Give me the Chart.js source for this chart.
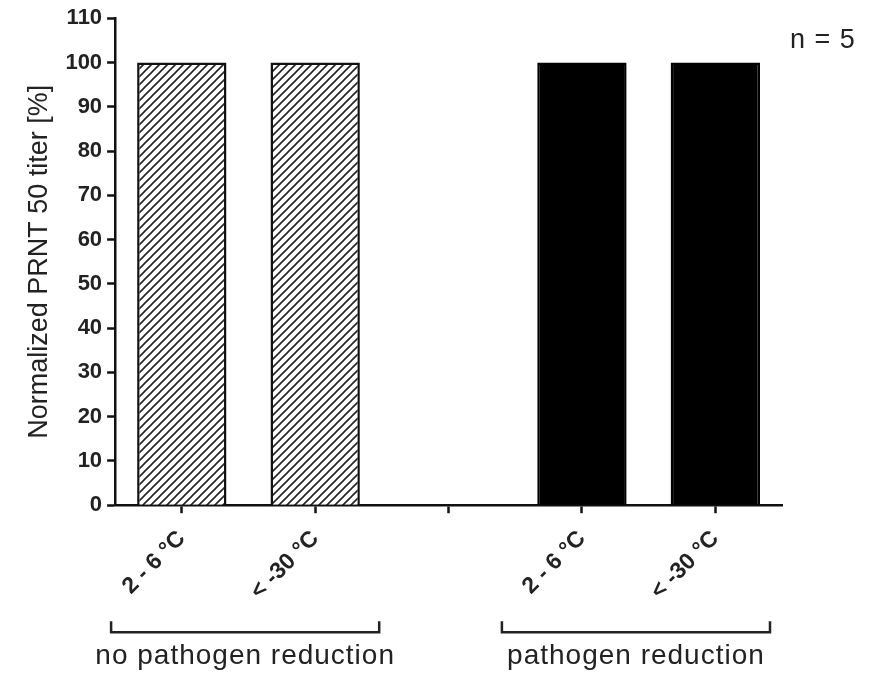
<!DOCTYPE html>
<html>
<head>
<meta charset="utf-8">
<script src="https://cdn.jsdelivr.net/npm/chart.js@4"></script>
<style>
  html, body { margin: 0; padding: 0; background: #fff; }
  #wrap { width: 882px; height: 675px; }
</style>
</head>
<body>
<div id="wrap"><canvas id="chart" width="882" height="675"></canvas></div>
<script>
// categories on the x axis (middle slot is the empty gap)
const categories = ['2 - 6 °C', '< -30 °C', '', '2 - 6 °C', '< -30 °C'];
// normalized PRNT 50 titer, %
const noReduction = [100, 100, null, null, null];
const withReduction = [null, null, null, 100, 100];
const groupNames = ['no pathogen reduction', 'pathogen reduction'];
const yTicks = { min: 0, max: 110, step: 10 };
const sampleNote = 'n = 5';

const FONT = '"Liberation Sans", Arial, sans-serif';
const INK = '#111';

// diagonal hatch "/" pattern
function makeHatch() {
  const c = document.createElement('canvas');
  c.width = 8; c.height = 8;
  const g = c.getContext('2d');
  g.fillStyle = '#fff';
  g.fillRect(0, 0, 8, 8);
  g.strokeStyle = '#222';
  g.lineWidth = 1.6;
  g.beginPath();
  g.moveTo(-1, 9); g.lineTo(9, -1);
  g.moveTo(-1, 1); g.lineTo(1, -1);
  g.moveTo(7, 9); g.lineTo(9, 7);
  g.stroke();
  return g.createPattern(c, 'repeat');
}

// brackets under the x labels + group names + n
const extras = {
  id: 'extras',
  afterDraw(chart) {
    const ctx = chart.ctx;
    const x = chart.scales.x;
    const bottom = chart.chartArea.bottom;
    const spans = [[-0.53, 1.48], [2.4, 4.41]];
    ctx.save();
    ctx.strokeStyle = '#222';
    ctx.lineWidth = 2.5;
    ctx.fillStyle = '#222';
    ctx.font = '28px ' + FONT;
    ctx.textAlign = 'center';
    ctx.textBaseline = 'alphabetic';
    spans.forEach((s, i) => {
      const x0 = x.getPixelForValue(s[0]);
      const x1 = x.getPixelForValue(s[1]);
      const yb = bottom + 127;
      ctx.beginPath();
      ctx.moveTo(x0, yb - 11);
      ctx.lineTo(x0, yb);
      ctx.lineTo(x1, yb);
      ctx.lineTo(x1, yb - 11);
      ctx.stroke();
      ctx.letterSpacing = '1px';
      ctx.fillText(groupNames[i], (x0 + x1) / 2, bottom + 159);
    });
    ctx.letterSpacing = '1px';
    ctx.textAlign = 'left';
    ctx.font = '27px ' + FONT;
    ctx.fillText(sampleNote, chart.chartArea.right + 8, 48);
    ctx.restore();
  }
};

new Chart(document.getElementById('chart'), {
  type: 'bar',
  data: {
    labels: categories,
    datasets: [
      {
        label: groupNames[0],
        data: noReduction,
        backgroundColor: makeHatch(),
        borderColor: INK,
        borderWidth: 2.5
      },
      {
        label: groupNames[1],
        data: withReduction,
        backgroundColor: '#000',
        borderColor: '#000',
        borderWidth: 2.5
      }
    ]
  },
  options: {
    responsive: false,
    animation: false,
    grouped: false,
    barPercentage: 0.67,
    categoryPercentage: 1,
    layout: { padding: { left: 13, right: 100, top: 8, bottom: 58 } },
    plugins: {
      legend: { display: false },
      tooltip: { enabled: false }
    },
    scales: {
      x: {
        offset: true,
        border: { display: true, color: INK, width: 2.5 },
        grid: { display: true, offset: false, drawOnChartArea: false, tickLength: 8, tickColor: INK, tickWidth: 2.5 },
        ticks: {
          color: '#222',
          font: { family: FONT, size: 23, weight: 'bold' },
          minRotation: 45,
          maxRotation: 45,
          padding: 12,
          autoSkip: false
        }
      },
      y: {
        min: yTicks.min,
        max: yTicks.max,
        border: { display: true, color: INK, width: 2.5 },
        grid: { display: true, drawOnChartArea: false, tickLength: 8, tickColor: INK, tickWidth: 2.5 },
        ticks: {
          stepSize: yTicks.step,
          color: '#222',
          font: { family: FONT, size: 22, weight: 'bold' },
          padding: 5
        },
        title: {
          display: true,
          text: 'Normalized PRNT 50 titer [%]',
          color: '#222',
          font: { family: FONT, size: 27 },
          padding: { top: 10, bottom: 5 }
        }
      }
    }
  },
  plugins: [extras]
});
</script>
</body>
</html>
